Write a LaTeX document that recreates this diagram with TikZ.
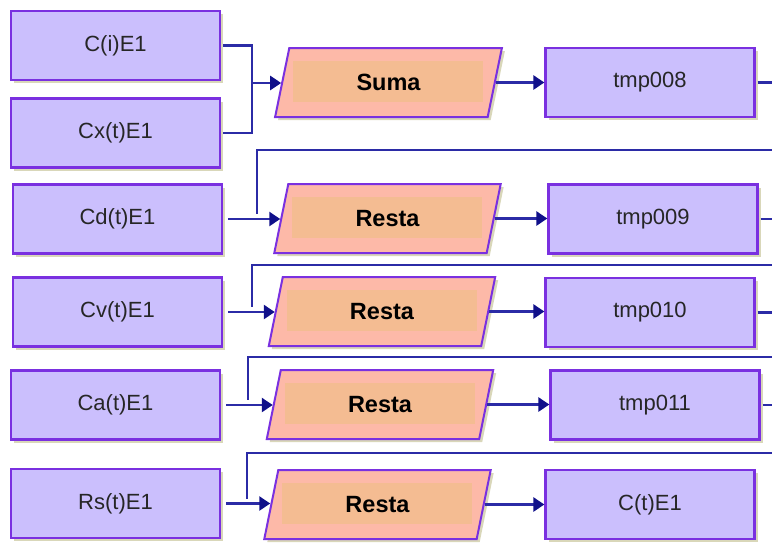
\documentclass[tikz,border=0pt]{standalone}
\usepackage{fontspec}
\setmainfont{Liberation Sans}
\usetikzlibrary{shapes.geometric,shadows,arrows.meta}
\definecolor{boxfill}{HTML}{CBBFFD}
\definecolor{boxline}{HTML}{7A30E0}
\definecolor{shcol}{HTML}{D9D7B9}
\definecolor{opfill}{HTML}{FDB9A8}
\definecolor{opinner}{HTML}{F4BC92}
\definecolor{wire}{HTML}{2B2BA6}
\definecolor{tipcol}{HTML}{10108A}
\begin{document}
\begin{tikzpicture}[x=1pt,y=-1pt,
  boxnode/.style={draw=boxline, line width=2.2pt, fill=boxfill, minimum width=209pt, minimum height=69pt, inner sep=0pt,
    font=\fontsize{22}{25}\selectfont, text=black!85,
    drop shadow={shadow xshift=3pt,shadow yshift=-3pt,fill=shcol,opacity=1}},
  opnode/.style={trapezium, trapezium left angle=74.6, trapezium right angle=105.4, trapezium stretches=true,
    minimum width=228pt, minimum height=69pt, inner sep=0pt, draw=boxline, line width=2pt, fill=opfill,
    font=\bfseries\fontsize{23.5}{26}\selectfont,
    drop shadow={shadow xshift=3pt,shadow yshift=-3pt,fill=shcol,opacity=1},
    path picture={\fill[opinner] ([xshift=-95.5pt,yshift=-19.5pt]path picture bounding box.center) rectangle ([xshift=94.5pt,yshift=21.5pt]path picture bounding box.center);}},
  wireline/.style={draw=wire, line width=2.4pt},
  arr/.style={wireline, -{Triangle[length=11pt,width=14pt,color=tipcol]}}
]
\useasboundingbox[fill=white] (0,0) rectangle (772,542);

% input boxes
\node[boxnode] (ci) at (115.5,45.5) {C(i)E1};
\node[boxnode] (cx) at (115.5,133) {Cx(t)E1};
\node[boxnode] (cd) at (117.5,219) {Cd(t)E1};
\node[boxnode] (cv) at (117.5,312) {Cv(t)E1};
\node[boxnode] (ca) at (115.5,405) {Ca(t)E1};
\node[boxnode] (rs) at (115.5,503.5) {Rs(t)E1};

% operations
\node[opnode] (suma) at (388.5,82.5) {Suma};
\node[opnode] (r2) at (387.5,218.5) {Resta};
\node[opnode] (r3) at (382,311.5) {Resta};
\node[opnode] (r4) at (380,404.5) {Resta};
\node[opnode] (r5) at (377.5,504.5) {Resta};

% results
\node[boxnode] (t8) at (650,82.5) {tmp008};
\node[boxnode] (t9) at (653,219) {tmp009};
\node[boxnode] (t10) at (650,312.5) {tmp010};
\node[boxnode] (t11) at (655,405) {tmp011};
\node[boxnode] (ct) at (650,504.5) {C(t)E1};

% coordinates
\coordinate (j1) at (252,83);
\coordinate (re) at (772,0);
\coordinate (e2) at (772,150); \coordinate (v2) at (257,214);
\coordinate (e3) at (772,265); \coordinate (v3) at (252,307);
\coordinate (e4) at (772,357); \coordinate (v4) at (248,400);
\coordinate (e5) at (772,453); \coordinate (v5) at (247,499);

% row 1
\draw[wireline,shorten <=2pt] (ci.east) -| (j1);
\draw[wireline,shorten <=2pt] (cx.east) -| (j1);
\draw[arr] (j1) -- (j1 -| suma.west);

% feedback lines
\draw[wireline] (e2) -| (v2);
\draw[wireline] (e3) -| (v3);
\draw[wireline] (e4) -| (v4);
\draw[wireline] (e5) -| (v5);

% inputs to ops
\draw[arr,shorten <=5pt] (cd.east) -- (cd.east -| r2.west);
\draw[arr,shorten <=5pt] (cv.east) -- (cv.east -| r3.west);
\draw[arr,shorten <=5pt] (ca.east) -- (ca.east -| r4.west);
\draw[arr,shorten <=5pt] (rs.east) -- (rs.east -| r5.west);

% ops to results
\draw[arr] (suma.east) -- (suma.east -| t8.west);
\draw[arr] (r2.east) -- (r2.east -| t9.west);
\draw[arr] (r3.east) -- (r3.east -| t10.west);
\draw[arr] (r4.east) -- (r4.east -| t11.west);
\draw[arr] (r5.east) -- (r5.east -| ct.west);

% outputs leaving to the right
\draw[wireline,shorten <=2pt] (t8.east) -- (t8.east -| re);
\draw[wireline,shorten <=2pt] (t9.east) -- (t9.east -| re);
\draw[wireline,shorten <=2pt] (t10.east) -- (t10.east -| re);
\draw[wireline,shorten <=2pt] (t11.east) -- (t11.east -| re);
\end{tikzpicture}
\end{document}
